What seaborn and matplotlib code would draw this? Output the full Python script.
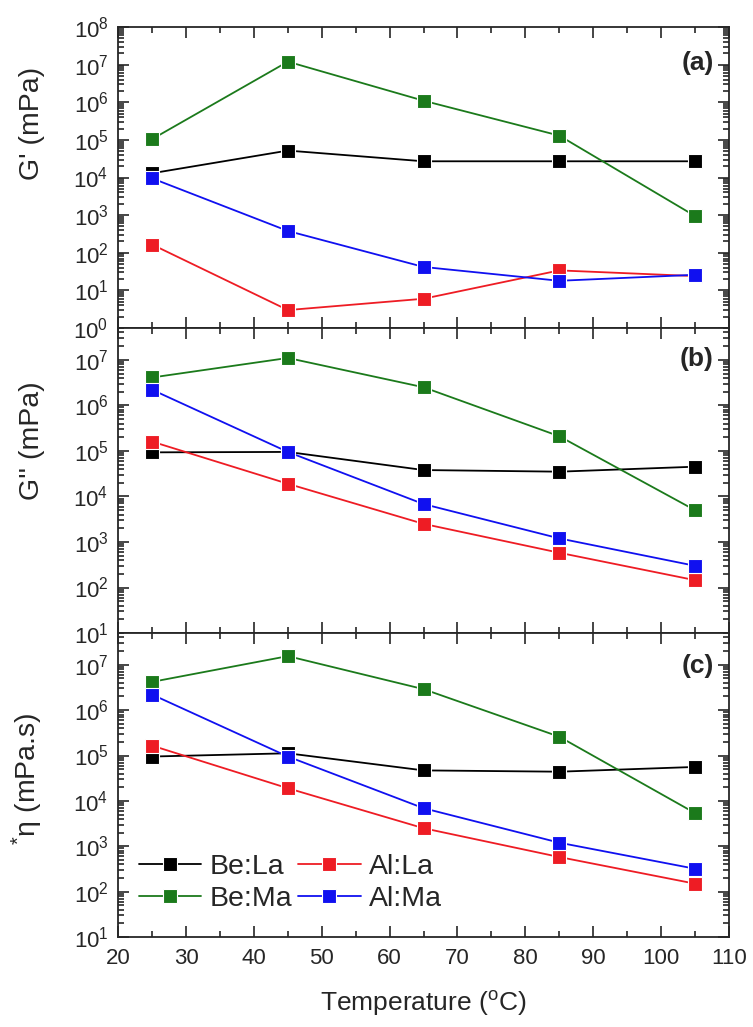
import numpy as np
import pandas as pd
import matplotlib
matplotlib.use("Agg")
import matplotlib.pyplot as plt
from matplotlib.ticker import LogLocator, MultipleLocator, NullFormatter
import seaborn as sns

sns.set_style("ticks")
plt.rcParams['font.family'] = ['Liberation Sans', 'DejaVu Sans']
plt.rcParams['mathtext.fontset'] = 'custom'
plt.rcParams['mathtext.rm'] = 'Liberation Sans'
plt.rcParams['mathtext.it'] = 'Liberation Sans:italic'

temperature = [25, 45, 65, 85, 105]
series = ["Be:La", "Be:Ma", "Al:La", "Al:Ma"]
colors = {"Be:La": "#000000", "Be:Ma": "#1b7a1b", "Al:La": "#ee1c24", "Al:Ma": "#1010f0"}

# (a) G' (mPa)
g1_bela = [1.3e4, 5.2e4, 2.7e4, 2.7e4, 2.7e4]
g1_bema = [1.05e5, 1.2e7, 1.1e6, 1.3e5, 9.5e2]
g1_alla = [1.65e2, 3.0, 6.0, 34, 24]
g1_alma = [9.5e3, 3.8e2, 42, 18, 26]

# (b) G'' (mPa)
g2_bela = [9.3e4, 9.5e4, 3.8e4, 3.5e4, 4.5e4]
g2_bema = [4.1e6, 1.1e7, 2.5e6, 2.1e5, 5.0e3]
g2_alla = [1.6e5, 1.9e4, 2.5e3, 5.8e2, 1.45e2]
g2_alma = [2.2e6, 9.5e4, 6.8e3, 1.2e3, 3.0e2]

# (c) *eta (mPa.s)
eta_bela = [9.5e4, 1.12e5, 4.7e4, 4.4e4, 5.6e4]
eta_bema = [4.2e6, 1.55e7, 2.9e6, 2.6e5, 5.4e3]
eta_alla = [1.65e5, 1.9e4, 2.5e3, 5.8e2, 1.5e2]
eta_alma = [2.2e6, 9.5e4, 6.9e3, 1.2e3, 3.2e2]

panels = [
    ("G' (mPa)", "(a)", [g1_bela, g1_bema, g1_alla, g1_alma], (1, 1e8)),
    ("G'' (mPa)", "(b)", [g2_bela, g2_bema, g2_alla, g2_alma], (10, 5e7)),
    (r"$^{*}$η (mPa.s)", "(c)", [eta_bela, eta_bema, eta_alla, eta_alma], (10, 5e7)),
]

fig = plt.figure(figsize=(7.53, 10.27), dpi=100)
left, width = 0.157, 0.811
bottoms = [0.6806, 0.3836, 0.0876]
heights = [0.2931, 0.2970, 0.2960]
label_y = [0.88, 0.898, 0.892]
ylabel_y = [0.68, 0.63, 0.52]

for i, (ylabel, tag, vals, ylim) in enumerate(panels):
    ax = fig.add_axes([left, bottoms[i], width, heights[i]])
    ax.set_yscale('log')
    rows = []
    for name, v in zip(series, vals):
        for t, y in zip(temperature, v):
            rows.append({"T": t, "val": y, "sample": name})
    df = pd.DataFrame(rows)
    sns.lineplot(data=df, x="T", y="val", hue="sample", hue_order=series,
                 palette=colors, marker="s", markersize=9.5, markeredgecolor="white",
                 markeredgewidth=0.8, linewidth=1.3, estimator=None, ax=ax,
                 legend=(i == 2))
    ax.set_xlim(20, 110)
    ax.set_ylim(*ylim)
    ax.xaxis.set_major_locator(MultipleLocator(10))
    ax.xaxis.set_minor_locator(MultipleLocator(5))
    ax.yaxis.set_major_locator(LogLocator(base=10, numticks=20))
    ax.yaxis.set_minor_locator(LogLocator(base=10, subs=np.arange(2, 10), numticks=20))
    ax.yaxis.set_minor_formatter(NullFormatter())
    ax.tick_params(which='both', direction='in', top=True, right=True, width=1.2)
    ax.tick_params(which='major', length=8, labelsize=16)
    ax.tick_params(which='minor', length=4)
    ax.tick_params(axis='y', which='major', pad=7)
    for s in ax.spines.values():
        s.set_linewidth(1.3)
    ax.set_ylabel(ylabel, fontsize=20.5)
    ax.yaxis.set_label_coords(-0.12, ylabel_y[i])
    ax.text(0.975, label_y[i], tag, transform=ax.transAxes, ha='right', va='center',
            fontsize=19, fontweight='bold')
    if i < 2:
        ax.set_xlabel("")
        ax.tick_params(axis='x', labelbottom=False)
    else:
        ax.set_xlabel(r"Temperature ($^{\mathrm{o}}$C)", fontsize=19, labelpad=14)
        ax.tick_params(axis='x', pad=8)
        h, l = ax.get_legend_handles_labels()
        ax.legend(h, l, ncol=2, loc='lower left', bbox_to_anchor=(0.01, 0.035),
                  frameon=False, fontsize=20.5, handlelength=2.2, handletextpad=0.3,
                  columnspacing=0.2, labelspacing=0.2, borderpad=0)

fig.savefig("out.png", dpi=100)
